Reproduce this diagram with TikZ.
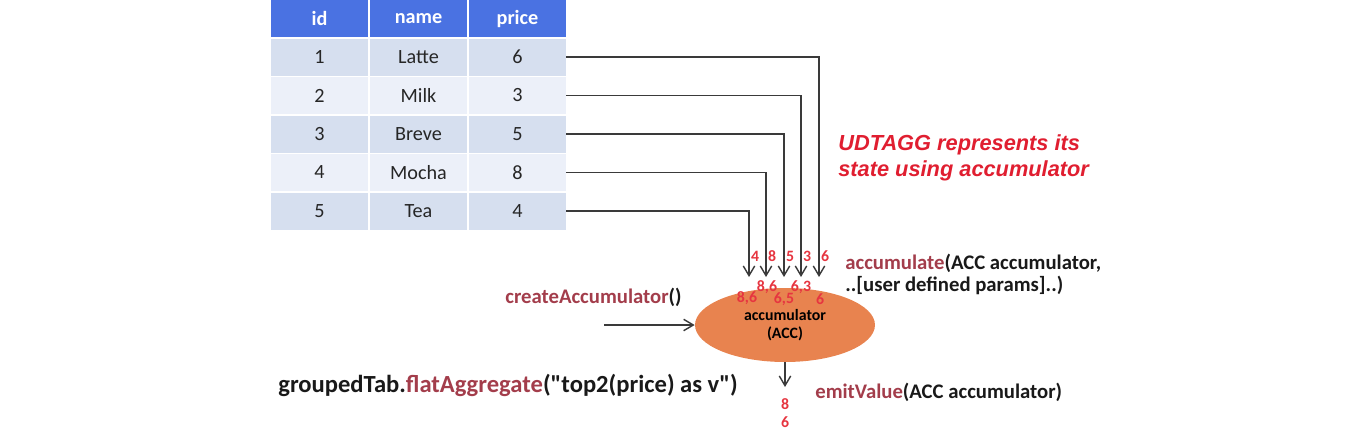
\documentclass[tikz,border=0pt]{standalone}
\usepackage{fontspec}
\setmainfont{Carlito}
\newfontfamily\notefont{Liberation Sans}
\usetikzlibrary{arrows.meta,positioning,shapes.geometric}

\definecolor{hdrblue}{HTML}{4A72E2}
\definecolor{rowdark}{HTML}{D6DFEF}
\definecolor{rowlight}{HTML}{ECF0F9}
\definecolor{accorange}{HTML}{E8834F}
\definecolor{methred}{HTML}{A33D4B}
\definecolor{numred}{HTML}{E63540}
\definecolor{notered}{HTML}{E01E30}
\definecolor{wiregray}{HTML}{3A3A3A}

\begin{document}
\begin{tikzpicture}[x=0.02cm,y=-0.02cm,>={Straight Barb[length=5.5pt,width=6.5pt]},
    cell/.style={minimum width=1.94cm,minimum height=0.74cm,inner sep=0pt,
                 text=black!85,font=\fontsize{11.5}{13}\selectfont},
    head/.style={cell,fill=hdrblue,text=white,font=\bfseries\fontsize{11.5}{13}\selectfont},
    num/.style={text=numred,inner sep=0pt,font=\bfseries\fontsize{9}{9.6}\selectfont},
    call/.style={anchor=west,inner sep=0pt,text=black!90,font=\bfseries\fontsize{11.8}{12.5}\selectfont},
    wire/.style={draw=wiregray,line width=0.8pt}]

  \useasboundingbox (0,0) rectangle (1356,434);

  % table
  \node[head] (hid)    at (319.5,18.5) {id};
  \node[head] (hname)  at (418.5,18.5) {name};
  \node[head] (hprice) at (517.5,18.5) {price};
  \foreach \r/\nm/\pr/\y/\col in {1/Latte/6/57/rowdark, 2/Milk/3/95.5/rowlight,
      3/Breve/5/134/rowdark, 4/Mocha/8/172.5/rowlight, 5/Tea/4/211/rowdark} {
    \node[cell,fill=\col] (id\r) at (319.5,\y) {\r};
    \node[cell,fill=\col] (nm\r) at (418.5,\y) {\nm};
    \node[cell,fill=\col] (pr\r) at (517.5,\y) {\pr};
  }

  % accumulator
  \node[ellipse,fill=accorange,minimum width=3.6cm,minimum height=1.48cm,inner sep=0pt,
        align=center,font=\bfseries\fontsize{9}{10.5}\selectfont] (acc) at (785,325)
        {accumulator\\(ACC)};

  \coordinate (in1) at (819,277);
  \coordinate (in2) at (801,277);
  \coordinate (in3) at (784,277);
  \coordinate (in4) at (766,277);
  \coordinate (in5) at (749,277);
  \foreach \r in {1,...,5}
    \draw[wire,->] (pr\r.east) -| (in\r);

  \node[num] (v1) at (825,256) {6};
  \node[num] (v2) at (807,256) {3};
  \node[num] (v3) at (790,256) {5};
  \node[num] (v4) at (772,256) {8};
  \node[num] (v5) at (755,256) {4};

  \node[num] (s1) at (747,298) {8,6};
  \node[num] (s2) at (767,287) {8,6};
  \node[num] (s3) at (784,299) {6,5};
  \node[num] (s4) at (801,287) {6,3};
  \node[num] (s5) at (820,299) {6};

  % calls
  \node[call] (create) at (505,297) {\textcolor{methred}{createAccumulator}()};
  \coordinate (cin) at (604,325);
  \draw[wire,->] (cin) -- (acc.west);

  \node[call,align=left] (accum) at (845,274)
    {\textcolor{methred}{accumulate}(ACC accumulator,\\..[user defined params]..)};

  \coordinate (out) at (785,387);
  \draw[wire,->] (acc.south) -- (out);
  \node[num,align=center,font=\bfseries\fontsize{9}{9.8}\selectfont] (res) at (785,413) {8\\6};
  \node[call] (emit) at (815,392) {\textcolor{methred}{emitValue}(ACC accumulator)};

  \node[call,font=\bfseries\fontsize{14}{16}\selectfont] (query) at (278,385)
    {groupedTab.\textcolor{methred}{flatAggregate}(\textquotedbl top2(price) as v\textquotedbl)};

  \node[anchor=west,inner sep=0pt,align=left,text=notered,
        font=\notefont\bfseries\itshape\fontsize{12.4}{14.7}\selectfont] (note) at (838,158)
    {UDTAGG represents its\\state using accumulator};
\end{tikzpicture}
\end{document}
